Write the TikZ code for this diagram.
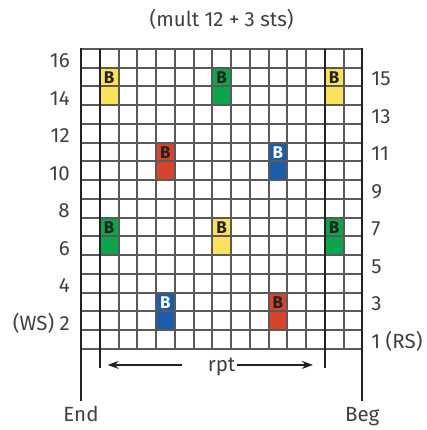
\documentclass[tikz,border=0pt]{standalone}
\usepackage{fontspec}
\setmainfont{Fira Sans}
\usetikzlibrary{arrows.meta}
\definecolor{byellow}{HTML}{FAE35B}
\definecolor{bgreen}{HTML}{0BA64B}
\definecolor{bred}{HTML}{D8432B}
\definecolor{bblue}{HTML}{1A5DAB}
\definecolor{labgray}{HTML}{404040}
\definecolor{gridgray}{HTML}{5A5A5A}
\definecolor{edgeblack}{HTML}{222222}

\begin{document}
\begin{tikzpicture}[x=18.75pt,y=18.75pt,
  font=\fontsize{20.5}{24}\selectfont, text=labgray,
  gridline/.style={gridgray,line width=2pt},
  edgeline/.style={edgeblack,line width=2.4pt},
  btext/.style={font=\fontsize{17}{19}\selectfont\bfseries,inner sep=0pt}]
\useasboundingbox (-4.32,-4.32) rectangle (18.453,18.613);
% coloured stitches
\foreach \c/\r/\col/\tc in {2/15/byellow/edgeblack, 8/15/bgreen/edgeblack, 14/15/byellow/edgeblack,
  5/11/bred/edgeblack, 11/11/bblue/white,
  2/7/bgreen/edgeblack, 8/7/byellow/edgeblack, 14/7/bgreen/edgeblack,
  5/3/bblue/white, 11/3/bred/edgeblack} {
  \fill[\col] (\c-1,\r-2) rectangle (\c,\r);
  \node[btext,text=\tc] (b\c-\r) at (\c-0.5,\r-0.5) {B};
}
% grid
\foreach \i in {0,...,15}
  \draw[gridline] (\i,0) -- (\i,16);
\foreach \j in {0,...,16}
  \draw[gridline] (-0.05,\j) -- (15.05,\j);
\draw[edgeline] (0,16.05) -- (0,-2.8);
\draw[edgeline] (15,16.05) -- (15,-2.8);
\draw[edgeline] (1,16) -- (1,-1);
\draw[edgeline] (13,16) -- (13,-1);
% row numbers
\foreach \r in {4,6,...,16}
  \node[anchor=base east,inner sep=0pt] (ws\r) at (-0.59,\r-1) {\r};
\node[anchor=base east,inner sep=0pt] (ws2) at (-0.59,1) {(WS) 2};
\foreach \r in {3,5,...,15}
  \node[anchor=base west,inner sep=0pt] (rs\r) at (15.48,\r-0.97) {\r};
\node[anchor=base west,inner sep=0pt] (rs1) at (15.48,0.03) {1 (RS)};
% texts
\node[anchor=base,inner sep=0pt] (title) at (7.5,17.19) {(mult 12 + 3 sts)};
\node[anchor=base,inner sep=0pt] (endlab) at (0,-3.88) {End};
\node[anchor=base,inner sep=0pt] (beglab) at (15,-3.88) {Beg};
\node[anchor=base,inner sep=0pt] (rpt) at (7.5,-1.21) {rpt};
\coordinate (rptLs) at (5.39,-0.85);
\coordinate (rptLe) at (1.42,-0.85);
\coordinate (rptRs) at (8.32,-0.85);
\coordinate (rptRe) at (12.37,-0.85);
\draw[edgeblack,line width=1.2pt,-{Stealth[length=11pt,width=8pt]}] (rptLs) -- (rptLe);
\draw[edgeblack,line width=1.2pt,-{Stealth[length=11pt,width=8pt]}] (rptRs) -- (rptRe);
\end{tikzpicture}
\end{document}
